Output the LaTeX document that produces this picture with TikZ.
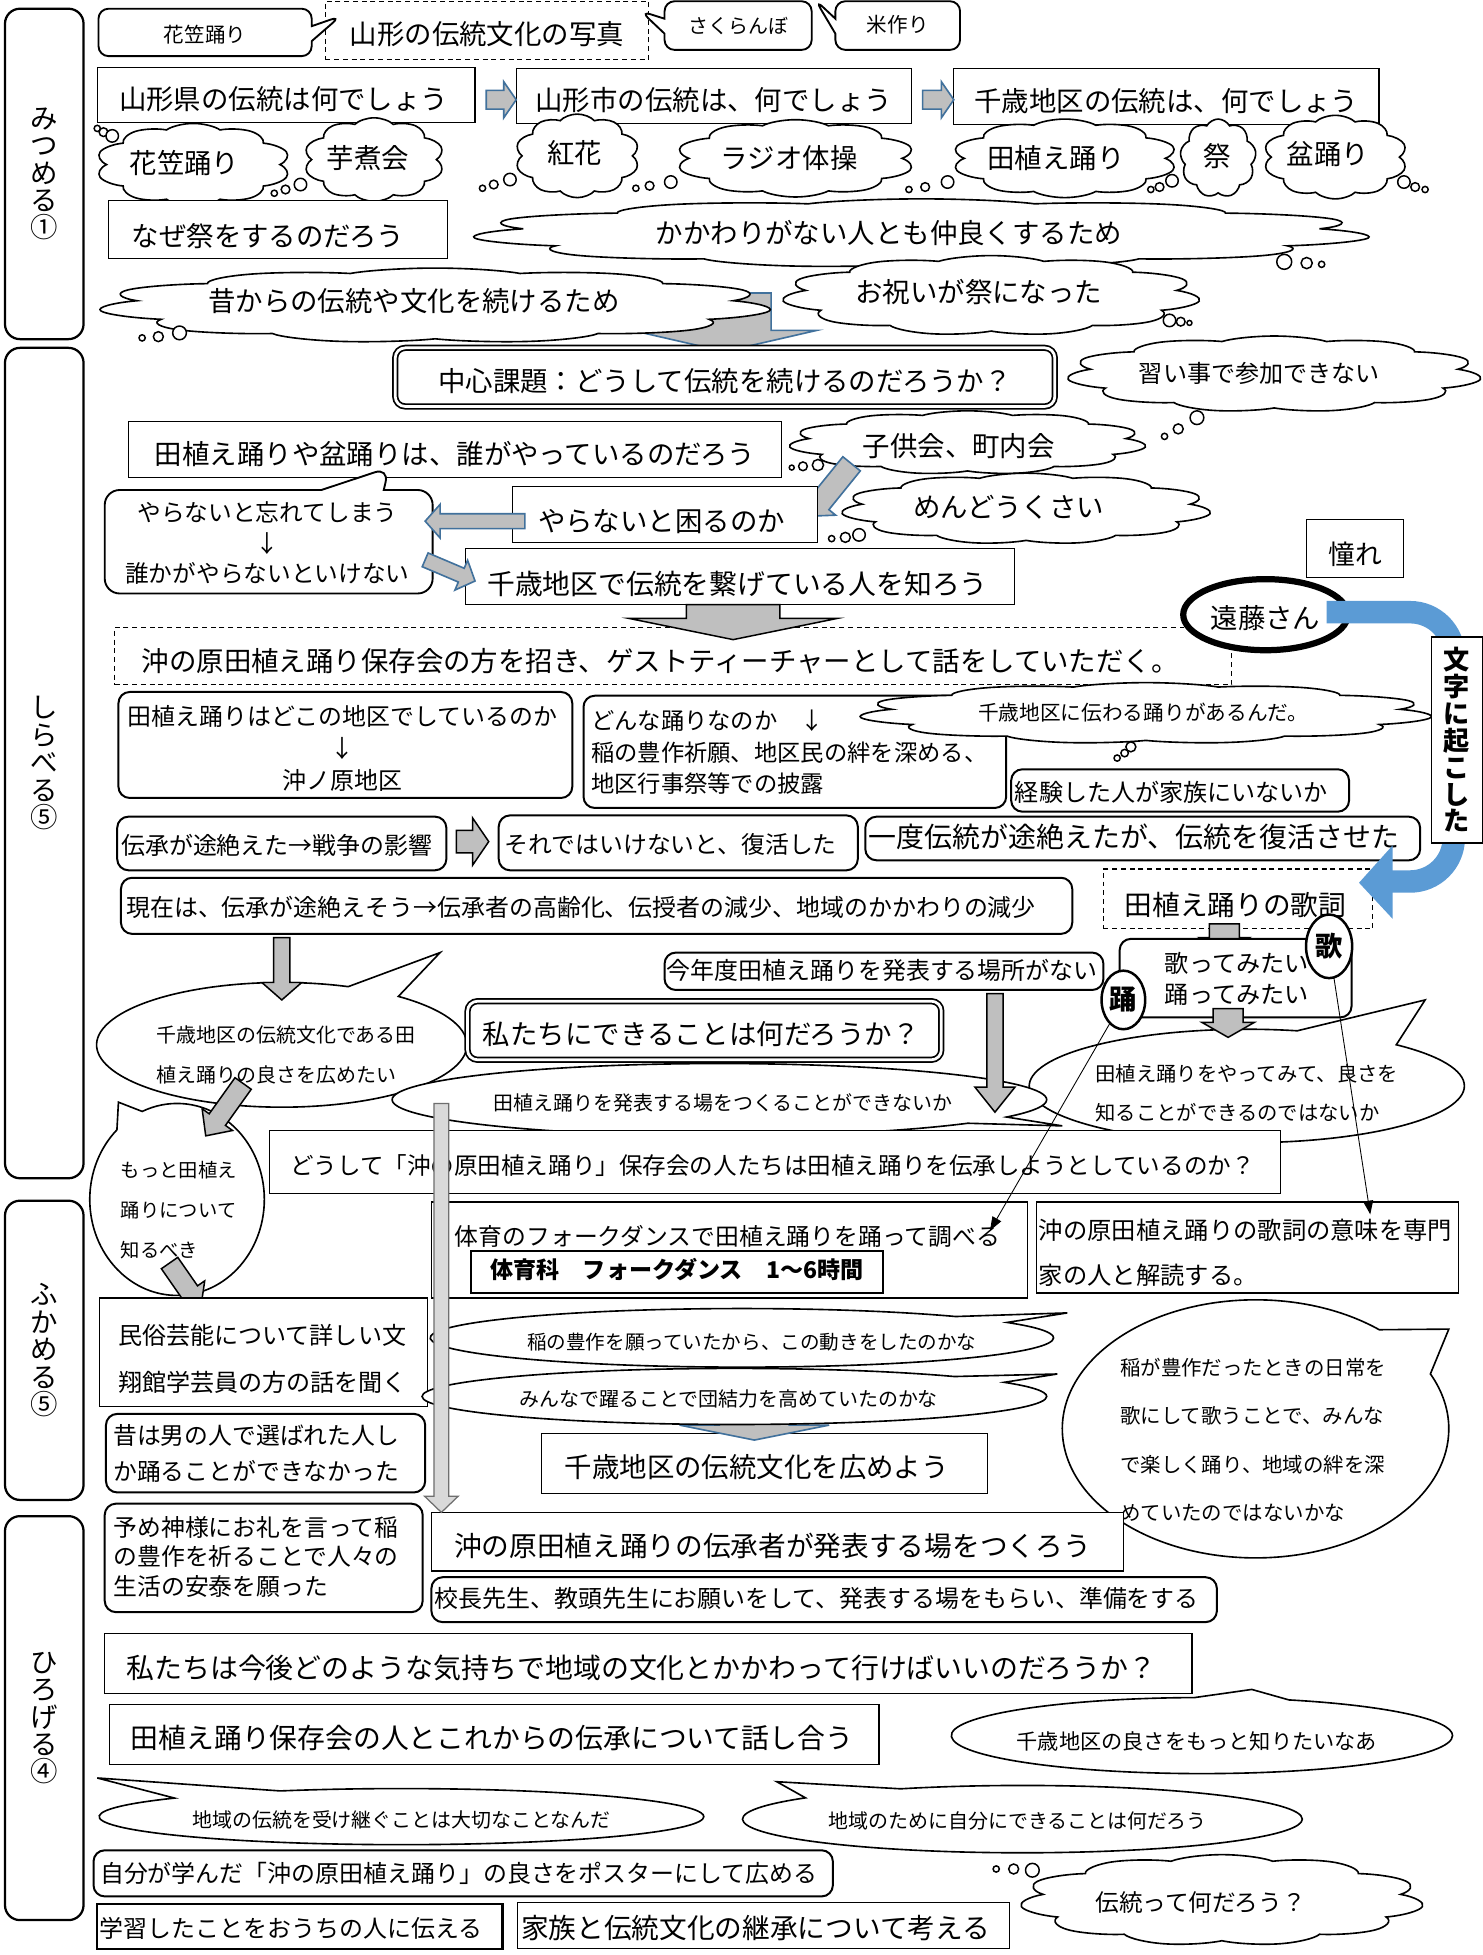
\documentclass[tikz,border=0pt]{standalone}
\usepackage{fontspec}
\setmainfont{Noto Sans CJK JP}
\usetikzlibrary{shapes.symbols,shapes.callouts,shapes.geometric,arrows.meta,calc}
\definecolor{agray}{RGB}{191,191,191}
\definecolor{ablue}{RGB}{65,113,156}
\definecolor{bandblue}{RGB}{91,155,213}
\definecolor{lgray}{RGB}{217,217,217}
\definecolor{dgray}{RGB}{110,110,110}
\newcommand\fs[2]{\fontsize{#1}{#2}\selectfont}
\newcommand\zt[3]{\smash{\makebox[0pt]{\hspace*{#1pt}\hspace*{#1pt}\raisebox{-0.36em}{\raisebox{-#2pt}{#3}}}}}
\newcommand\bx[7]{\node[#6,minimum width={#4-#2},minimum height={#5-#3}] (#1) at ({(#2+#4)/2},{(#3+#5)/2}) {#7};}
\newcommand\cx[6]{\node[#5,minimum width=#3,minimum height=#4] (#1) at (#2) {#6};}
\newcommand\cl[7]{%
  \begin{scope}[shift={(#2)},xscale=#3/#4]
  \node[cloud,cloud puffs=#5,cloud puff arc=120,draw,line width=1.3pt,fill=white,minimum width=#4,minimum height=#4,transform shape] (#1) at (0,0) {};
  \end{scope}
  \node[#6] (#1t) at (#2) {#7};}
\newcommand\bubs[1]{\foreach \ux/\uy/\ur in {#1}{\draw[bub] (\ux,\uy) circle[radius=\ur];}}
\newcommand\barrow[6][barb]{%
  \path let \p1=(#2), \p2=(#3) in \pgfextra{%
    \pgfmathsetmacro\myba{atan2(\y2-\y1,\x2-\x1)}%
    \pgfmathsetmacro\mybl{veclen(\x2-\x1,\y2-\y1)}%
    \global\let\barA\myba\global\let\barL\mybl};
  \draw[#1,shift={(#2)},rotate=\barA] (0,-#4) -- ({\barL-#6},-#4) -- ({\barL-#6},-#5) -- (\barL,0) -- ({\barL-#6},#5) -- ({\barL-#6},#4) -- (0,#4) -- cycle;}
\tikzset{
  every node/.style={inner sep=0pt,outer sep=0pt},
  pbox/.style={rectangle,draw,line width=0.9pt,fill=white,font=\fs{22}{22}},
  tbox/.style={rectangle,draw,line width=1.8pt,fill=white},
  rbox/.style={rectangle,draw,line width=1.6pt,fill=white,rounded corners=9pt},
  dbox/.style={rectangle,draw,line width=0.9pt,dash pattern=on 4pt off 3pt,fill=white,font=\fs{22}{22}},
  dblbox/.style={rectangle,draw,double,double distance=2.2pt,line width=1.4pt,rounded corners=8pt,fill=white},
  stage/.style={rectangle,draw,line width=1.8pt,rounded corners=12pt,align=center,font=\fs{22}{22}},
  ctext/.style={font=\fs{22}{22}},
  bub/.style={draw,line width=1.2pt,fill=white},
  spk/.style={ellipse callout,draw,line width=1.3pt,fill=white,callout pointer arc=18},
  rco/.style={rectangle callout,draw,line width=1.5pt,fill=white,rounded corners=8pt,callout pointer width=12pt},
  barb/.style={fill=agray,draw=ablue,line width=1.3pt},
  bark/.style={fill=agray,draw=black,line width=1.2pt},
  barl/.style={fill=lgray,draw=dgray,line width=1pt},
  oval/.style={ellipse,draw,line width=2pt,fill=white,font=\fs{22}{22}\bfseries},
  thinarr/.style={-{Triangle[length=11pt,width=8pt]},line width=0.7pt},
}
\begin{document}
\begin{tikzpicture}[x=1pt,y=-1pt]
\fill[white] (0,0) rectangle (1189,1568);
\useasboundingbox (0,0) rectangle (1189,1568);

% stage boxes
\bx{st1}{4}{7}{67}{272}{stage}{み\\つ\\め\\る\\①}
\bx{st2}{4}{279}{67}{945}{stage}{し\\ら\\べ\\る\\⑤}
\bx{st3}{4}{963}{67}{1203}{stage}{ふ\\か\\め\\る\\⑤}
\bx{st4}{4}{1216}{67}{1540}{stage}{ひ\\ろ\\げ\\る\\④}

% row 1
\bx{photo}{261}{1}{520}{48}{dbox}{\zt{0}{3}{山形の伝統文化の写真}}
\bx{hanagasa}{79}{7}{250}{45}{rco,callout absolute pointer={(273,13)},font=\fs{16.5}{16.5}}{\zt{0}{2}{花笠踊り}}
\bx{sakura}{533}{1}{651}{40}{rco,callout absolute pointer={(514,9)},font=\fs{16}{16}}{\zt{0}{1}{さくらんぼ}}
\bx{kome}{670}{1}{770}{40}{rco,callout absolute pointer={(654,0)},font=\fs{16.5}{16.5}}{\zt{0}{0}{米作り}}

% row 2
\bx{ken}{78}{54}{381}{98}{pbox}{\zt{-2}{4}{山形県の伝統は何でしょう}}
\bx{shi}{414}{55}{731}{99}{pbox}{\zt{0}{4}{山形市の伝統は、何でしょう}}
\bx{chitose}{765}{55}{1106}{100}{pbox}{\zt{0}{4}{千歳地区の伝統は、何でしょう}}
\coordinate (a2s) at (390,80); \coordinate (a2e) at (414,80);
\barrow{a2s}{a2e}{7.5}{14.5}{10}
\coordinate (a3s) at (740,80); \coordinate (a3e) at (765,80);
\barrow{a3s}{a3e}{7.5}{14.5}{10}

% row 3 clouds
\cl{k1c}{155,132}{157}{66}{10}{ctext}{\zt{-7}{-1}{花笠踊り}}
\bubs{78/103/2.5,83/106/3.5,90/109/5}
\cl{k2c}{300,128}{113}{67}{10}{ctext}{\zt{-5}{-1}{芋煮会}}
\bubs{220/155/2.5,229/152/3.5,241/148/5}
\cl{k3c}{463,125}{100}{67}{10}{ctext}{\zt{-2}{-2}{紅花}}
\bubs{387/151/2.5,396/148/3.5,409/144/5}
\cl{k4c}{638,127}{193}{62}{10}{ctext}{\zt{-5}{0}{ラジオ体操}}
\bubs{510/151/2.5,521/149/3.5,538/146/5}
\cl{k5c}{854,127}{182}{63}{10}{ctext}{\zt{-7}{0}{田植え踊り}}
\bubs{729/152/2.5,742/150/3.5,760/146/5}
\cl{k6c}{977,127}{61}{63}{9}{ctext}{\zt{-1}{-1}{祭}}
\bubs{923/152/2.5,930/150/3.5,940/145/5}
\cl{k7c}{1071,126}{116}{67}{10}{ctext}{\zt{-6}{-2}{盆踊り}}
\bubs{1126/146/5,1135/150/3.5,1143/152/2.5}

% row 4-5
\bx{naze}{87}{161}{359}{207}{pbox}{\zt{-8}{6}{なぜ祭をするのだろう}}
\cl{kakawari}{739,187}{724}{55}{11}{ctext}{\zt{-26}{0}{かかわりがない人とも仲良くするため}}
\bubs{1030/210/6,1048/211/4.5,1060/212/2.5}
\coordinate (a1s) at (581,235); \coordinate (a1e) at (581,282);
\barrow{a1s}{a1e}{37.5}{74}{17}
\cl{mukashi}{349,245}{542}{60}{11}{ctext}{\zt{-17}{-3}{昔からの伝統や文化を続けるため}}
\bubs{114/271/2.5,127/270/4,144/267/5.5}
\cl{oiwai}{795,237}{337}{64}{11}{ctext}{\zt{-10}{-2}{お祝いが祭になった}}
\bubs{938/257/5,947/258/3.5,954/259/2}

% row 6
\bx{central}{317}{279}{846}{326}{dblbox,font=\fs{22}{22}}{\zt{0}{3.5}{中心課題：どうして伝統を続けるのだろうか？}}
\cl{narai}{1022,300}{334}{61}{11}{font=\fs{19.3}{19.3}}{\zt{-12}{0}{習い事で参加できない}}
\bubs{934/350/2.5,945/344/4,960/335/5.5}

% row 7
\bx{who}{103}{338}{627}{383}{pbox}{\zt{0}{4.5}{田植え踊りや盆踊りは、誰がやっているのだろう}}
\cl{kodomo}{776,355}{288}{51}{11}{ctext}{\zt{-7}{3}{子供会、町内会}}
\bubs{635/375/2,644/374/3.5,656/373/4.5}
\cl{mendo}{823,408}{298}{57}{11}{ctext}{\zt{-14}{-1}{めんどうくさい}}
\bubs{667/432/2.5,678/431/4,689/429/5}
\coordinate (a4s) at (683,372); \coordinate (a4e) at (649,414);
\barrow{a4s}{a4e}{9}{16}{14}

% row 8
\bx{yaranai}{84}{393}{347}{476}{rco,callout absolute pointer={(312,375)},callout pointer width=50pt,rounded corners=12pt,font=\fs{19}{24.5}}{\zt{-1}{1}{\begin{tabular}{@{}c@{}}やらないと忘れてしまう\\↓\\誰かがやらないといけない\end{tabular}}}
\bx{komaru}{411}{390}{656}{435}{pbox}{\zt{-3}{6}{やらないと困るのか}}
\coordinate (a5s) at (421,418); \coordinate (a5e) at (341,418);
\barrow{a5s}{a5e}{6}{13.5}{12}
\bx{tsunage}{373}{440}{814}{485}{pbox,font=\fs{22.3}{22.3}}{\zt{-2}{6.5}{千歳地区で伝統を繋げている人を知ろう}}
\coordinate (a6s) at (341,449); \coordinate (a6e) at (381,466);
\barrow{a6s}{a6e}{6}{13}{12}
\bx{akogare}{1048}{417}{1126}{463}{pbox,font=\fs{21.5}{21.5}}{\zt{0}{5}{憧れ}}

% row 9
\bx{guest}{92}{503}{988}{549}{dbox}{\zt{-10.5}{5}{沖の原田植え踊り保存会の方を招き、ゲストティーチャーとして話をしていただく。}}
\coordinate (a7s) at (588,485); \coordinate (a7e) at (588,513);
\barrow[bark]{a7s}{a7e}{37.5}{83.5}{17}
\cx{endo}{1015,493}{132}{57}{ellipse,draw,line width=5pt,fill=white,font=\fs{22}{22}}{\zt{0}{3}{遠藤さん}}

% row 10
\bx{doko}{95}{555}{459}{640}{rbox,font=\fs{19.2}{25.5}}{\zt{-2.5}{3}{\begin{tabular}{@{}c@{}}田植え踊りはどこの地区でしているのか\\↓\\沖ノ原地区\end{tabular}}}
\bx{donna}{468}{558}{807}{648}{rbox,font=\fs{18.7}{25.5}}{\zt{-4.5}{0}{\begin{tabular}{@{}l@{}}どんな踊りなのか　↓\\稲の豊作祈願、地区民の絆を深める、\\地区行事祭等での披露\end{tabular}}}
\cl{tsutawaru}{919,572}{462}{49}{11}{font=\fs{16.6}{16.6}}{\zt{-2}{0}{千歳地区に伝わる踊りがあるんだ。}}
\bubs{896/608/2.5,902/604/3,907/599/4}
\bx{keiken}{811}{617}{1082}{651}{rbox,font=\fs{19.3}{19.3}}{\zt{-7}{2}{経験した人が家族にいないか}}

% row 11
\bx{tozetsu}{94}{655}{358}{698}{rbox,font=\fs{19.2}{19.2}}{\zt{-4}{2}{伝承が途絶えた→戦争の影響}}
\coordinate (a8s) at (366,675); \coordinate (a8e) at (392,675);
\barrow[bark]{a8s}{a8e}{9}{19}{13}
\bx{fukkatsu}{400}{654}{688}{698}{rbox,font=\fs{19.1}{19.1}}{\zt{-6}{2}{それではいけないと、復活した}}
\bx{ichido}{694}{655}{1139}{690}{rbox,font=\fs{22.4}{22.4}}{\zt{-7}{-1}{一度伝統が途絶えたが、伝統を復活させた}}

% row 12-13
\bx{genzai}{97}{704}{860}{749}{rbox,font=\fs{19.2}{19.2}}{\zt{-12.5}{2}{現在は、伝承が途絶えそう→伝承者の高齢化、伝授者の減少、地域のかかわりの減少}}
\bx{kashi}{885}{697}{1101}{745}{dbox,font=\fs{22.2}{22.2}}{\zt{-2}{5}{田植え踊りの歌詞}}
\coordinate (a10s) at (982,741); \coordinate (a10e) at (982,764);
\barrow[bark]{a10s}{a10e}{12}{20}{12}
\bx{konnendo}{533}{764}{885}{794}{rbox,font=\fs{19.2}{19.2}}{\zt{-1.5}{0}{今年度田植え踊りを発表する場所がない}}
\bx{utatte}{898}{753}{1084}{816}{rbox,font=\fs{19.4}{25}}{\zt{1}{1}{\begin{tabular}{@{}l@{}}歌ってみたい\\踊ってみたい\end{tabular}}}
\cx{uta}{1066,759}{37}{51}{oval}{\zt{0}{0}{歌}}
\cx{odori}{901,802}{35}{47}{oval}{\zt{0}{0}{踊}}

% blue band arrow
\coordinate (bandS) at (1064,491); \coordinate (bandE) at (1116,707);
\draw[bandblue,line width=18pt] (bandS) -- (1131,491) arc[start angle=-90,end angle=0,radius=35] -- (1166,672) arc[start angle=0,end angle=90,radius=35] -- (bandE);
\fill[bandblue] (1117,678) -- (1090,708) -- (1117,737) -- cycle;
\bx{moji}{1148}{511}{1189}{676}{rectangle,draw,line width=1.2pt,fill=white,align=center,font=\fs{21}{21.5}\bfseries}{文\\字\\に\\起\\こ\\し\\た}

% row 14
\cx{e1}{226,838}{297}{100}{spk,callout absolute pointer={(353,764)},font=\fs{16}{32}}{\zt{3.5}{6}{\begin{tabular}{@{}l@{}}千歳地区の伝統文化である田\\植え踊りの良さを広めたい\end{tabular}}}
\coordinate (a9s) at (226,752); \coordinate (a9e) at (226,802);
\barrow[bark]{a9s}{a9e}{6.5}{16}{14}
\bx{dekiru}{375}{803}{755}{850}{dblbox,font=\fs{22}{22}}{\zt{-2.5}{3.5}{私たちにできることは何だろうか？}}
\cx{yattemite}{1000,871}{349}{91}{spk,callout absolute pointer={(1143,802)},callout pointer arc=30,font=\fs{16.3}{31}}{\zt{0}{4.5}{\begin{tabular}{@{}l@{}}田植え踊りをやってみて、良さを\\知ることができるのではないか\end{tabular}}}
\cx{happyo}{577,882}{525}{58}{spk,callout absolute pointer={(852,903)},callout pointer arc=12,font=\fs{16}{16}}{\zt{3}{3}{田植え踊りを発表する場をつくることができないか}}
\coordinate (a11s) at (798,797); \coordinate (a11e) at (798,892);
\barrow[bark]{a11s}{a11e}{6.5}{16}{20}
\coordinate (a12s) at (985,809); \coordinate (a12e) at (985,832);
\barrow[bark]{a12s}{a12e}{12}{21}{12}

% row 15
\cx{motto}{142,962}{140}{154}{spk,callout absolute pointer={(95,884)},callout pointer arc=20,font=\fs{15.5}{32}}{\zt{1.5}{6}{\begin{tabular}{@{}l@{}}もっと田植え\\踊りについて\\知るべき\end{tabular}}}
\coordinate (a13s) at (195,869); \coordinate (a13e) at (165,911);
\barrow[bark]{a13s}{a13e}{8}{15}{16}
\bx{doshite}{216}{907}{1027}{957}{pbox,font=\fs{18.9}{18.9}}{\zt{-2}{3}{どうして「沖の原田植え踊り」保存会の人たちは田植え踊りを伝承しようとしているのか？}}

% row 16
\bx{taiiku}{346}{964}{824}{1041}{pbox,font=\fs{19.1}{19.1}}{\zt{-1.5}{-10.5}{体育のフォークダンスで田植え踊りを踊って調べる}}
\bx{jikan}{378}{1003}{708}{1037}{rectangle,draw,line width=1.5pt,fill=white,font=\fs{18.5}{18.5}\bfseries}{\zt{0}{-1}{体育科　フォークダンス　1〜6時間}}
\bx{kaidoku}{831}{964}{1170}{1037}{pbox,font=\fs{19.5}{36}}{\zt{-1.5}{2.5}{\begin{tabular}{@{}l@{}}沖の原田植え踊りの歌詞の意味を専門\\家の人と解読する。\end{tabular}}}

% row 17
\coordinate (a14s) at (136,1013); \coordinate (a14e) at (161,1049);
\barrow[bark]{a14s}{a14e}{8}{15}{16}
\bx{minzoku}{80}{1041}{343}{1128}{pbox,font=\fs{19.3}{38}}{\zt{-1}{3.5}{\begin{tabular}{@{}l@{}}民俗芸能について詳しい文\\翔館学芸員の方の話を聞く\end{tabular}}}
\bx{hiromeyo}{434}{1150}{792}{1198}{pbox}{\zt{-6}{3}{千歳地区の伝統文化を広めよう}}
\cx{inene}{595,1073}{500}{47}{spk,callout absolute pointer={(856,1053)},callout pointer arc=15,font=\fs{15.7}{15.7}}{\zt{8}{4}{稲の豊作を願っていたから、この動きをしたのかな}}
\coordinate (a15s) at (605,1128); \coordinate (a15e) at (605,1155);
\barrow{a15s}{a15e}{28}{60}{12}
\cx{minna}{589,1120}{501}{45}{spk,callout absolute pointer={(848,1102)},callout pointer arc=15,font=\fs{16}{16}}{\zt{-4.5}{2}{みんなで躍ることで団結力を高めていたのかな}}
\cx{inega}{1007,1146}{310}{207}{spk,callout absolute pointer={(1162,1066)},callout pointer arc=25,font=\fs{16.4}{38.7}}{\zt{-2}{6}{\begin{tabular}{@{}l@{}}稲が豊作だったときの日常を\\歌にして歌うことで、みんな\\で楽しく踊り、地域の絆を深\\めていたのではないかな\end{tabular}}}

% thin arrows
\coordinate (l1e) at (794,987);
\draw[thinarr] (odori) -- (l1e);
\coordinate (l2e) at (1099,974);
\draw[thinarr] (uta) -- (l2e);

% row 18-19
\bx{otoko}{85}{1134}{341}{1197}{rbox,font=\fs{19.1}{29}}{\zt{-7.5}{0}{\begin{tabular}{@{}l@{}}昔は男の人で選ばれた人し\\か踊ることができなかった\end{tabular}}}
\bx{kamisama}{84}{1206}{339}{1293}{rbox,font=\fs{19.1}{23.5}}{\zt{-6}{0}{\begin{tabular}{@{}l@{}}予め神様にお礼を言って稲\\の豊作を祈ることで人々の\\生活の安泰を願った\end{tabular}}}
\bx{denshosha}{346}{1213}{901}{1260}{pbox,font=\fs{22.2}{22.2}}{\zt{-4}{3.5}{沖の原田植え踊りの伝承者が発表する場をつくろう}}
\bx{kocho}{346}{1265}{976}{1301}{rbox,font=\fs{19.2}{19.2}}{\zt{-6}{-1}{校長先生、教頭先生にお願いをして、発表する場をもらい、準備をする}}
\coordinate (a16s) at (354,885); \coordinate (a16e) at (354,1213);
\barrow[barl]{a16s}{a16e}{6}{13.5}{13}

% row 20-23
\bx{kongo}{84}{1310}{956}{1358}{pbox,font=\fs{22.4}{22.4}}{\zt{-5.5}{4}{私たちは今後どのような気持ちで地域の文化とかかわって行けばいいのだろうか？}}
\bx{hanashiau}{88}{1367}{705}{1415}{pbox,font=\fs{22.3}{22.3}}{\zt{-2}{3.5}{田植え踊り保存会の人とこれからの伝承について話し合う}}
\cx{yosa}{964,1392}{402}{61}{spk,callout absolute pointer={(1004,1355)},callout pointer arc=22,font=\fs{17}{17}}{\zt{-4}{5}{千歳地区の良さをもっと知りたいなあ}}
\cx{uketsugu}{322,1457}{485}{45}{spk,callout absolute pointer={(78,1426)},callout pointer arc=25,font=\fs{16}{16}}{\zt{0}{3}{地域の伝統を受け継ぐことは大切なことなんだ}}
\cx{jibun}{820,1459}{449}{54}{spk,callout absolute pointer={(623,1429)},callout pointer arc=25,font=\fs{16}{16}}{\zt{-4}{2}{地域のために自分にできることは何だろう}}
\bx{poster}{75}{1484}{668}{1521}{rbox,font=\fs{19.2}{19.2}}{\zt{-3.5}{0.5}{自分が学んだ「沖の原田植え踊り」の良さをポスターにして広める}}
\cl{dento}{980,1524}{325}{73}{11}{font=\fs{19}{19}}{\zt{-17}{2}{伝統って何だろう？}}
\bubs{799/1499/2.5,813/1499/4,828/1500/5.5}
\bx{gakushu}{78}{1527}{403}{1563}{tbox,font=\fs{19.2}{19.2}}{\zt{-7}{2}{学習したことをおうちの人に伝える}}
\bx{kazoku}{415}{1526}{810}{1563}{pbox,font=\fs{22.2}{22.2}}{\zt{-6.5}{2.5}{家族と伝統文化の継承について考える}}
\end{tikzpicture}
\end{document}
